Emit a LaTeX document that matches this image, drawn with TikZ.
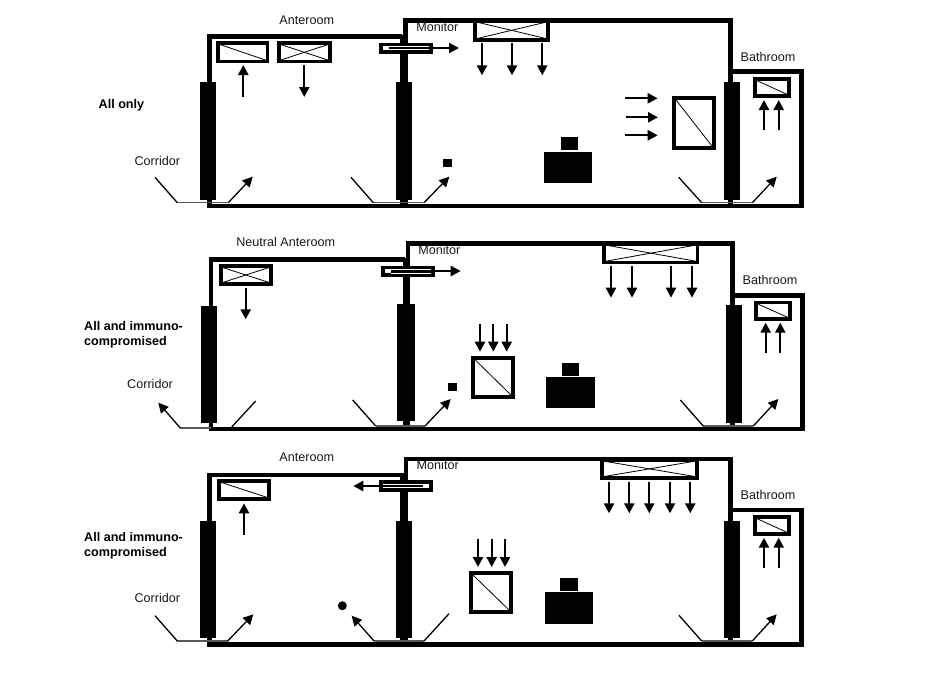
\documentclass[tikz,border=0pt]{standalone}
\usepackage{fontspec}
\setmainfont{Liberation Sans}
\usetikzlibrary{arrows.meta}
\tikzset{
  wall/.style={draw=black,line width=4.5pt,line join=miter},
  doorbar/.style={fill=black,draw=none},
  ventbox/.style={draw=black,line width=3.6pt,fill=white},
  ventline/.style={draw=black,line width=0.8pt},
  airflow/.style={draw=black,line width=2.3pt,-{Triangle[length=10pt,width=10pt]}},
  swing/.style={draw=black,line width=1.3pt,line join=round},
  swingflow/.style={swing,-{Triangle[length=10pt,width=10pt]}},
  sill/.style={draw=black!65,line width=1.2pt},
  solidblock/.style={fill=black,draw=none},
  roomlabel/.style={font=\fontsize{12.6pt}{14pt}\selectfont,inner sep=0pt,text=black!90},
  riskgroup/.style={font=\bfseries\fontsize{12.6pt}{15pt}\selectfont,inner sep=0pt,align=left,anchor=west}
}
% walls: left, top ante, ante right, main left, main top, main right, bath top, bath right, bottom
\newcommand{\walls}[9]{%
  \draw[wall] (#1,#9) -- (#1,#2) -- (#3,#2);
  \draw[wall] (#3,#9) -- (#3,#2-2.2);
  \draw[wall] (#4,#9) -- (#4,#5) -- (#6,#5) -- (#6,#9);
  \draw[wall] (#6,#7) -- (#8,#7) -- (#8,#9);
  \draw[wall] (#1-2.2,#9) -- (#8+2.2,#9);
}
\newcommand{\block}[4]{\fill[solidblock] (#1,#2) rectangle (#3,#4);}
\newcommand{\ventsingle}[4]{%
  \draw[ventbox] (#1+1.8,#2+1.8) rectangle (#3-1.8,#4-1.8);
  \draw[ventline] (#1+3,#2+3) -- (#3-3,#4-3);
}
\newcommand{\ventcross}[4]{%
  \draw[ventbox] (#1+1.8,#2+1.8) rectangle (#3-1.8,#4-1.8);
  \draw[ventline] (#1+3,#2+3) -- (#3-3,#4-3);
  \draw[ventline] (#1+3,#4-3) -- (#3-3,#2+3);
}
\newcommand{\flow}[4]{\draw[airflow] (#1,#2) -- (#3,#4);}
% transfer grille: x left, y top; white end on the left
\newcommand{\grilleL}[2]{%
  \fill[black] (#1,#2) rectangle (#1+53.4,#2+11);
  \fill[white] (#1+3.8,#2+3.6) rectangle (#1+10,#2+7.4);
  \fill[white] (#1+10,#2+3.2) rectangle (#1+50,#2+4.2);
  \fill[white] (#1+10,#2+6.8) rectangle (#1+50,#2+7.8);
}
% white end on the right
\newcommand{\grilleR}[2]{%
  \fill[black] (#1,#2) rectangle (#1+53.4,#2+11.4);
  \fill[white] (#1+43.4,#2+3.6) rectangle (#1+49.6,#2+7.6);
  \fill[white] (#1+3.4,#2+3.2) rectangle (#1+43.4,#2+4.2);
  \fill[white] (#1+3.4,#2+7) rectangle (#1+43.4,#2+8);
}
\newcommand{\sillline}[3]{\draw[sill] (#1,#3) -- (#2,#3);}
\begin{document}
\begin{tikzpicture}[x=1pt,y=-1pt]
\useasboundingbox (0,0) rectangle (947,672);
\fill[white] (0,0) rectangle (947,672);

%% ---------- panel 1
\walls{209.5}{36.7}{402.3}{405.7}{20.7}{730.7}{71.7}{801.7}{206.2}
\block{200}{82}{216}{200}
\block{396}{82}{412}{200}
\block{724}{82}{740}{200}
\ventsingle{216.3}{41.3}{269.3}{63.3}
\ventcross{277}{41.3}{331.7}{63.3}
\ventcross{473.3}{19}{549.7}{41.7}
\ventsingle{672.3}{96}{715.7}{150}
\ventsingle{753.3}{77.3}{790.7}{97.7}
\grilleL{379.3}{42.5}
\flow{432}{48}{459}{48}
\flow{243.3}{96.7}{243.3}{65}
\flow{304.3}{65}{304.3}{97}
\flow{482}{43.3}{482}{75.3}
\flow{512}{43.3}{512}{75.3}
\flow{542.3}{43.3}{542.3}{75.3}
\flow{625}{98.3}{657.7}{98.3}
\flow{625.5}{117.3}{658}{117.3}
\flow{625}{135.3}{657.7}{135.3}
\flow{764}{130}{764}{100}
\flow{778.7}{130}{778.7}{100}
\block{544}{152}{592}{183}
\block{561}{137}{578}{150.3}
\block{443.3}{159.3}{452}{166.7}
\sillline{177.3}{228.3}{202.7}
\sillline{373.3}{424}{202.7}
\sillline{701.7}{752.3}{202.7}
\draw[swing] (155,177.3) -- (177.3,202.7);
\draw[swingflow] (228.3,202.7) -- (252.7,176.7);
\draw[swing] (351,177.3) -- (373.3,202.7);
\draw[swingflow] (424,202.7) -- (449.3,176.7);
\draw[swing] (678.7,177.3) -- (701.7,202.7);
\draw[swingflow] (752.3,202.7) -- (776.7,176.7);
\node[roomlabel] (anteA) at (306.7,20) {Anteroom};
\node[roomlabel] (monA) at (437.3,26.7) {Monitor};
\node[roomlabel] (bathA) at (768,57) {Bathroom};
\node[roomlabel] (corrA) at (157.3,160.7) {Corridor};
\node[riskgroup] (riskA) at (98.5,105.5) {All only};

%% ---------- panel 2
\walls{211}{259.7}{405.3}{408}{243.3}{732.3}{295.7}{802.7}{429}
\block{201}{306}{217}{423}
\block{397}{304}{415}{421}
\block{726}{305}{742}{423.3}
\ventcross{219}{264.3}{272.7}{285.7}
\ventcross{602.3}{242}{699.3}{264.3}
\ventsingle{471.3}{356}{515}{399}
\ventsingle{754}{300.7}{791.7}{320.7}
\grilleL{381.3}{265.7}
\flow{245.7}{287.7}{245.7}{319.3}
\flow{434}{271}{460.7}{271}
\flow{611}{266}{611}{297.7}
\flow{632}{266}{632}{297.7}
\flow{671}{266}{671}{297.7}
\flow{692}{266}{692}{297.7}
\flow{480}{324}{480}{351.7}
\flow{493.3}{324}{493.3}{351.7}
\flow{506.7}{324}{506.7}{351.7}
\flow{765.7}{353}{765.7}{322.7}
\flow{780.3}{353}{780.3}{322.7}
\block{546}{377}{595}{407.7}
\block{562}{363}{579}{376}
\block{448.3}{383.3}{456.7}{390.7}
\sillline{180.3}{211}{428}
\sillline{375.7}{425}{426}
\sillline{703.3}{753.3}{426}
\draw[swingflow] (180.3,428) -- (158.3,402.7);
\draw[swing] (231.7,427) -- (255.7,401);
\draw[swing] (352.7,400) -- (375.7,426);
\draw[swingflow] (425,426) -- (450.7,399);
\draw[swing] (680.3,400) -- (703.3,426);
\draw[swingflow] (753.3,426) -- (778.3,399);
\node[roomlabel] (anteB) at (285.7,242.3) {Neutral Anteroom};
\node[roomlabel] (monB) at (439.3,249.7) {Monitor};
\node[roomlabel] (bathB) at (770,280.3) {Bathroom};
\node[roomlabel] (corrB) at (150,383.7) {Corridor};
\node[riskgroup] (riskB) at (84,334.5) {All and immuno-\\compromised};

%% ---------- panel 3
\walls{209.3}{475}{402.7}{406.2}{459}{730.7}{510}{801.7}{644.3}
\block{200}{521}{216}{638.3}
\block{396}{521}{412}{638.3}
\block{724}{521}{740}{638.3}
\ventsingle{217}{479}{271}{500.7}
\ventcross{600}{458}{699}{479.7}
\ventsingle{469}{571}{513}{614}
\ventsingle{753.3}{515.3}{790.7}{535.7}
\grilleR{379.3}{480.3}
\flow{379.5}{486}{353.3}{486}
\flow{244}{535}{244}{503.3}
\flow{609}{481.7}{609}{513.3}
\flow{629.3}{481.7}{629.3}{513.3}
\flow{649.3}{481.7}{649.3}{513.3}
\flow{670}{481.7}{670}{513.3}
\flow{690.3}{481.7}{690.3}{513.3}
\flow{478}{539.3}{478}{567}
\flow{491.7}{539.3}{491.7}{567}
\flow{505}{539.3}{505}{567}
\flow{764}{567.7}{764}{537.7}
\flow{778.7}{567.7}{778.7}{537.7}
\block{545}{592}{593}{624}
\block{560}{578}{578}{591}
\fill[black] (342.3,605.7) circle (4.5);
\sillline{177.3}{227.7}{641}
\sillline{374}{424}{641}
\sillline{701.7}{752.3}{641}
\draw[swing] (155,615.7) -- (177.3,641);
\draw[swingflow] (227.7,641) -- (253.3,614.3);
\draw[swing] (449,613.7) -- (424,641);
\draw[swingflow] (374,641) -- (351.7,615.7);
\draw[swing] (679,615.3) -- (701.7,641);
\draw[swingflow] (752.3,641) -- (776.7,614.3);
\node[roomlabel] (anteC) at (306.7,457.7) {Anteroom};
\node[roomlabel] (monC) at (437.7,464.7) {Monitor};
\node[roomlabel] (bathC) at (768,495.3) {Bathroom};
\node[roomlabel] (corrC) at (157.3,598.3) {Corridor};
\node[riskgroup] (riskC) at (84,546) {All and immuno-\\compromised};
\end{tikzpicture}
\end{document}
